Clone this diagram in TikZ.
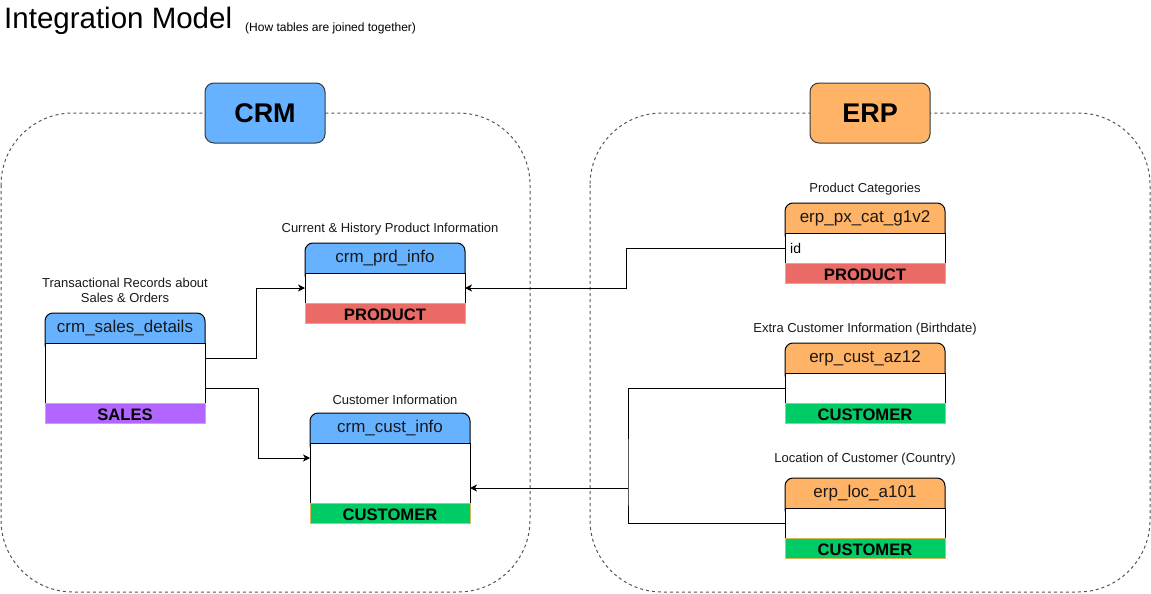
\documentclass[tikz,border=0pt]{standalone}
\usepackage{fontspec}
\setmainfont{Liberation Sans}
\usetikzlibrary{arrows.meta}
\definecolor{crmblue}{HTML}{66B2FF}
\definecolor{erporange}{HTML}{FFB366}
\definecolor{prodred}{HTML}{EA6B66}
\definecolor{salespurple}{HTML}{B266FF}
\definecolor{custgreen}{HTML}{00CC66}
\definecolor{footgold}{HTML}{D6B656}
\definecolor{dashgray}{HTML}{555555}
\definecolor{boxstroke}{HTML}{36393D}
\tikzset{
  tbody/.style={draw=black, fill=white, line width=1pt, minimum width=160, inner sep=0, outer sep=0},
  thead/.style={font=\fontsize{17}{20}\selectfont, text=black!90, inner sep=0},
  tfoot/.style={draw=footgold, line width=1pt, minimum width=160, minimum height=20, inner sep=0, outer sep=0, text height=15pt, text depth=0pt, font=\bfseries\fontsize{16.6}{19}\selectfont},
  lbl/.style={font=\fontsize{13}{15}\selectfont, align=center, inner sep=0, text=black!90},
  container/.style={draw=dashgray, dashed, dash pattern=on 3pt off 3pt, line width=1pt, rounded corners=72},
  groupbox/.style={draw=boxstroke, line width=1pt, rounded corners=9, minimum width=120, minimum height=60, font=\bfseries\fontsize{27}{32}\selectfont},
  arr/.style={line width=1pt, -{Stealth[length=7pt, width=7pt, inset=2pt]}},
  link/.style={line width=1pt}
}
\newcommand\dbtable[8]{%
  \draw[fill=#5, line width=1pt, rounded corners=8] (#2,#3) rectangle (#2+160,#3+40);
  \node[tbody, minimum height=#4, anchor=north west] (#1) at (#2,#3+30) {};
  \node[thead] (#1-h) at (#2+80,#3+15.5) {#6};
  \node[tfoot, fill=#7, anchor=north west] (#1-f) at (#2,#3+30+#4) {#8};
}
\begin{document}
\begin{tikzpicture}[x=1pt,y=-1pt]
\useasboundingbox (0,0) rectangle (1151,594);
% title
\node[anchor=base west, inner sep=0, font=\fontsize{29.5}{34}\selectfont] (title) at (4,29) {Integration Model};
\node[anchor=base west, inner sep=0, font=\fontsize{12}{14}\selectfont] (subtitle) at (245,32) {(How tables are joined together)};
% containers
\draw[container] (1,113) rectangle (530,592);
\draw[container] (590,113) rectangle (1150,592);
\node[groupbox, fill=crmblue] (crm) at (265,113) {CRM};
\node[groupbox, fill=erporange] (erp) at (870,113) {ERP};
% tables
\dbtable{sales}{45}{313}{60}{crmblue}{crm\_sales\_details}{salespurple}{SALES}
\dbtable{prd}{305}{243}{30}{crmblue}{crm\_prd\_info}{prodred}{PRODUCT}
\dbtable{cust}{310}{413}{60}{crmblue}{crm\_cust\_info}{custgreen}{CUSTOMER}
\dbtable{px}{785}{203}{30}{erporange}{erp\_px\_cat\_g1v2}{prodred}{PRODUCT}
\dbtable{az}{785}{343}{30}{erporange}{erp\_cust\_az12}{custgreen}{CUSTOMER}
\dbtable{loc}{785}{478}{30}{erporange}{erp\_loc\_a101}{custgreen}{CUSTOMER}
\node[anchor=west, inner sep=0, font=\fontsize{14}{16}\selectfont] (pxid) at ([xshift=5pt]px.west) {id};
% labels
\node[lbl] (lsales) at (125,290) {Transactional Records about\\Sales \& Orders};
\node[lbl] (lprd) at (390,229.5) {Current \& History Product Information};
\node[lbl] (lcust) at (395,399.5) {Customer Information};
\node[lbl] (lpx) at (865,189.5) {Product Categories};
\node[lbl] (laz) at (865,329.5) {Extra Customer Information (Birthdate)};
\node[lbl] (lloc) at (865,459.5) {Location of Customer (Country)};
% connectors
\draw[arr] ([yshift=15pt]sales.east) -- ++(51,0) |- (prd.west);
\draw[arr] ([yshift=-15pt]sales.east) -- ++(53,0) |- ([yshift=15pt]cust.west);
\draw[arr] (px.west) -- ++(-159,0) |- (prd.east);
\coordinate (jn) at (628,488);
\draw[link] (az.west) -| (jn) |- (loc.west);
\draw[arr] (jn) -- (jn -| cust.east);
\end{tikzpicture}
\end{document}
